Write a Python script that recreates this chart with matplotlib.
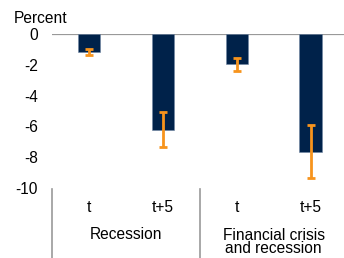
import matplotlib
matplotlib.use("Agg")
import matplotlib.pyplot as plt
from matplotlib.transforms import blended_transform_factory

plt.rcParams['font.family'] = ['Liberation Sans', 'DejaVu Sans']

# Data
sub_labels = ["t", "t+5", "t", "t+5"]
group_labels = ["Recession", "Financial crisis\nand recession"]
values = [-1.15, -6.23, -1.97, -7.64]
err_high = [-1.0, -5.06, -1.58, -5.9]
err_low = [-1.36, -7.36, -2.4, -9.37]
yticks = [0, -2, -4, -6, -8, -10]

navy = '#00224A'
orange = '#F7941D'
grey = '#999999'
fs = 11.2

fig = plt.figure(figsize=(3.44, 2.58), dpi=100)
ax = fig.add_axes([52/344, 1 - 188/258, 1 - 52/344, 154/258])

x = list(range(len(values)))
ax.bar(x, values, width=0.305, color=navy, edgecolor='#6F86A3', linewidth=0.4, zorder=2)
yerr = [[v - lo for v, lo in zip(values, err_low)],
        [hi - v for v, hi in zip(values, err_high)]]
ax.errorbar(x, values, yerr=yerr, fmt='none', ecolor=orange, elinewidth=2,
            capsize=3.2, capthick=2, zorder=3)
ax.axhline(0, color=grey, lw=1.6, zorder=1)

ax.set_xlim(-0.5, 3.45)
ax.set_ylim(-10, 0)
ax.set_yticks(yticks)
ax.set_yticklabels([str(t) for t in yticks], fontsize=fs)
ax.tick_params(axis='y', length=0, pad=10)
ax.set_xticks([])
for s in ax.spines.values():
    s.set_visible(False)

trans = blended_transform_factory(ax.transData, ax.transAxes)
for xi, lab in zip(x, sub_labels):
    ax.text(xi, -24/154, lab, transform=trans, ha='center', va='baseline', fontsize=fs)
group_baselines = [-51/154, -65/154]
for gi, lab in enumerate(group_labels):
    ax.text(2 * gi + 0.5, group_baselines[gi], lab, transform=trans,
            ha='center', va='baseline', fontsize=fs, linespacing=0.85)
for sx in [-0.5, 1.5]:
    ax.plot([sx, sx], [-0.007, -0.47], transform=trans, color=grey, lw=1.2,
            clip_on=False)

fig.text(14/344, 1 - 23.5/258, "Percent", fontsize=fs, ha='left', va='baseline')

fig.savefig("out.png", dpi=100)
